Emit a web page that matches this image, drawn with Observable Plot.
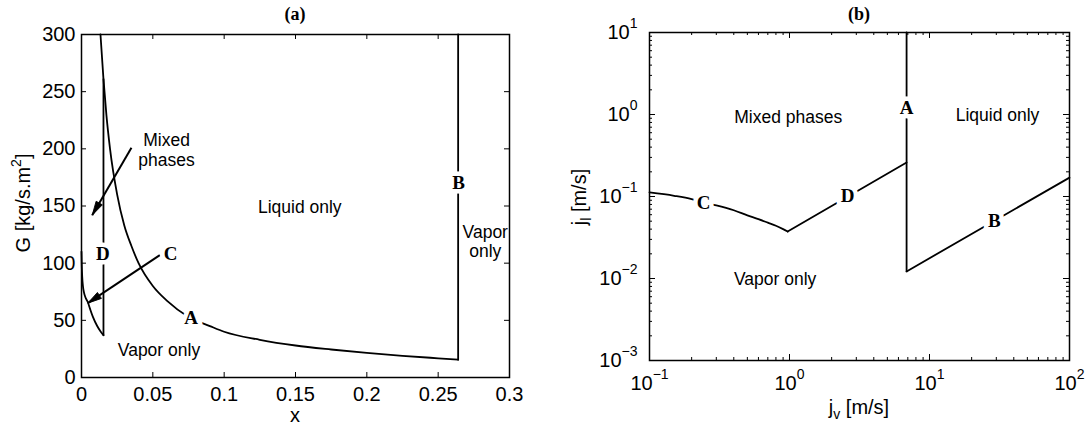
<!DOCTYPE html>
<html><head><meta charset="utf-8">
<script src="https://cdn.jsdelivr.net/npm/d3@7"></script>
<script src="https://cdn.jsdelivr.net/npm/@observablehq/plot@0.6"></script>
<style>
html,body{margin:0;padding:0;background:#fff;}
#wrap{position:relative;width:1089px;height:425px;overflow:hidden;background:#fff;}
#wrap svg{position:absolute;top:0;}
</style></head><body><div id="wrap"></div><script>
// ---------- Panel (a) data ----------
const aTicksX = [0, 0.05, 0.1, 0.15, 0.2, 0.25, 0.3];
const aTicksY = [0, 50, 100, 150, 200, 250, 300];
const curveA_x = [0.0133, 0.0154, 0.0175, 0.02, 0.025, 0.03, 0.035, 0.04, 0.05, 0.06, 0.075, 0.09, 0.1, 0.125, 0.15, 0.175, 0.2, 0.225, 0.25, 0.264];
const curveA_G = [300, 261, 229, 200, 160, 133, 115, 100, 80, 67, 53, 45, 40, 33, 28, 24.5, 21.5, 19, 16.8, 15.6];
const curveC_x = [0, 0.0002, 0.0005, 0.001, 0.0018, 0.0028, 0.0044, 0.006, 0.008, 0.011, 0.0135, 0.0154];
const curveC_G = [110, 98, 88, 80, 74, 70, 66, 60, 53, 45, 40, 37];
const lineD_x = [0.0154, 0.0154];
const lineD_G = [37, 261];
const lineB_x = [0.264, 0.264];
const lineB_G = [15.6, 300];
const aLabel = ["A", "B", "C", "D"];
const aLabelX = [0.0768, 0.2644, 0.0624, 0.0150];
const aLabelG = [52, 170, 108.5, 108.5];
const aRegion = ["Liquid only", "Vapor only", "Vapor\nonly"];
const aRegionX = [0.153, 0.0543, 0.283];
const aRegionG = [149, 23.6, 119];
const aMixed = ["Mixed\nphases"];
const aMixedX = [0.0596];
const aMixedG = [199];
const aArrowX1 = [0.035, 0.0549];
const aArrowG1 = [201, 107];
const aArrowX2 = [0.0075, 0.0044];
const aArrowG2 = [142, 65];

// ---------- Panel (b) data ----------
const bTicksX = [0.1, 1, 10, 100];
const bTicksY = [0.001, 0.01, 0.1, 1, 10];
const bC_jv = [0.1, 0.15, 0.2, 0.243, 0.3, 0.4, 0.5, 0.6, 0.7, 0.8, 0.9, 0.97];
const bC_jl = [0.112, 0.102, 0.093, 0.0845, 0.078, 0.068, 0.059, 0.053, 0.048, 0.044, 0.040, 0.0374];
const bD_jv = [0.97, 6.86];
const bD_jl = [0.0374, 0.26];
const bA_jv = [6.86, 6.86];
const bA_jl = [0.0122, 10];
const bB_jv = [6.86, 100];
const bB_jl = [0.0122, 0.17];
const bLabel = ["A", "B", "C", "D"];
const bLabelJv = [6.86, 29, 0.243, 2.6];
const bLabelJl = [1.2, 0.051, 0.0845, 0.101];
const bRegion = ["Mixed phases", "Liquid only", "Vapor only"];
const bRegionJv = [0.98, 30.6, 0.79];
const bRegionJl = [0.92, 0.97, 0.0097];

// ---------- helpers ----------
const FONT = "'Liberation Sans', Arial, Helvetica, sans-serif";
const SERIF = "'Liberation Serif', 'Times New Roman', serif";
const zip = (xs, ys) => xs.map((x, i) => ({x, y: ys[i]}));
const rows = (t, xs, ys) => t.map((s, i) => ({t: s, x: xs[i], y: ys[i]}));
const minorOf = (majors) => majors.slice(0, -1).flatMap(m => [2,3,4,5,6,7,8,9].map(k => m * k));

function inwardTicks(xs, ys, iw, ih, len) {
  const st = {stroke: "black", strokeWidth: 1};
  return [
    Plot.tickX(xs, {x: d => d, insetTop: ih - len, ...st}),
    Plot.tickX(xs, {x: d => d, insetBottom: ih - len, ...st}),
    Plot.tickY(ys, {y: d => d, insetRight: iw - len, ...st}),
    Plot.tickY(ys, {y: d => d, insetLeft: iw - len, ...st})
  ];
}
const haloLabels = (data) => Plot.text(data, {x: "x", y: "y", text: "t", fontFamily: SERIF, fontWeight: "bold",
  fontSize: 19, fill: "black", stroke: "white", strokeWidth: 9, paintOrder: "stroke"});

const headSymbol = {draw(ctx) { ctx.moveTo(0, 0); ctx.lineTo(-3.6, 14); ctx.lineTo(3.6, 14); ctx.closePath(); }};

function addText(svg, {x, y, rotate = 0, anchor = "middle", family = FONT, size = 20, weight = "normal", parts}) {
  const t = d3.select(svg).append("text")
    .attr("transform", `translate(${x},${y}) rotate(${rotate})`)
    .attr("text-anchor", anchor).attr("font-family", family)
    .attr("font-size", size).attr("font-weight", weight).attr("fill", "black");
  parts.forEach(p => {
    const s = t.append("tspan").text(p.text);
    if (p.dy) s.attr("dy", p.dy);
    if (p.size) s.attr("font-size", p.size);
  });
}

function supLabels(svg) {
  d3.select(svg).selectAll('g[aria-label$="tick label"] text').each(function() {
    const m = this.textContent.match(/^10\^(.+)$/);
    if (!m) return;
    const sel = d3.select(this);
    sel.text(null);
    sel.append("tspan").text("10");
    sel.append("tspan").attr("dy", "-11").attr("font-size", "14px").text(m[1].replace("-", "\u2212"));
  });
}

// ---------- Panel (a) ----------
function panelA(headAngles) {
  const w = 545, h = 425, mL = 81, mR = 36, mT = 34, mB = 48;
  const iw = w - mL - mR, ih = h - mT - mB;
  const arrows = aArrowX1.map((x1, i) => ({x1, y1: aArrowG1[i], x2: aArrowX2[i], y2: aArrowG2[i]}));
  const ln = {x: "x", y: "y", stroke: "black", strokeWidth: 1.8};
  return Plot.plot({
    width: w, height: h, marginLeft: mL, marginRight: mR, marginTop: mT, marginBottom: mB,
    x: {domain: [0, 0.3]}, y: {domain: [0, 300]},
    style: {fontFamily: FONT, fontSize: "20px", background: "white", color: "black"},
    marks: [
      Plot.line(zip(curveA_x, curveA_G), {...ln, curve: "monotone-x"}),
      Plot.line(zip(curveC_x, curveC_G), {...ln, curve: "monotone-x"}),
      Plot.line(zip(lineD_x, lineD_G), ln),
      Plot.line(zip(lineB_x, lineB_G), ln),
      Plot.link(arrows, {x1: "x1", y1: "y1", x2: "x2", y2: "y2", stroke: "black", strokeWidth: 2}),
      ...(headAngles ? [Plot.dot(arrows, {x: "x2", y: "y2", symbol: headSymbol, rotate: (d, i) => headAngles[i],
        fill: "black", stroke: "black", strokeWidth: 0.8})] : []),
      haloLabels(rows(aLabel, aLabelX, aLabelG)),
      Plot.text(rows(aRegion, aRegionX, aRegionG), {x: "x", y: "y", text: "t", fontFamily: FONT, fontSize: 17.5, lineHeight: 1.05, fill: "black"}),
      Plot.text(rows(aMixed, aMixedX, aMixedG), {x: "x", y: "y", text: "t", fontFamily: FONT, fontSize: 17.5, lineHeight: 1.15, fill: "black"}),
      ...inwardTicks(aTicksX, aTicksY, iw, ih, 5),
      Plot.frame({stroke: "black", strokeWidth: 1.5}),
      Plot.axisX(aTicksX, {tickSize: 0, tickPadding: 9, tickFormat: d => String(d), label: null}),
      Plot.axisY(aTicksY, {tickSize: 0, tickPadding: 6, tickFormat: d => String(d), label: null})
    ]
  });
}
const a0 = panelA(null);
const sx = a0.scale("x"), sy = a0.scale("y");
const headAngles = aArrowX1.map((x1, i) => {
  const dx = sx.apply(aArrowX2[i]) - sx.apply(x1);
  const dy = sy.apply(aArrowG2[i]) - sy.apply(aArrowG1[i]);
  return Math.atan2(dx, -dy) * 180 / Math.PI;
});
const svgA = panelA(headAngles);
svgA.style.left = "0px";
addText(svgA, {x: 295, y: 20, family: SERIF, size: 18, weight: "bold", parts: [{text: "(a)"}]});
addText(svgA, {x: 295, y: 422, parts: [{text: "x"}]});
addText(svgA, {x: 30, y: 203, rotate: -90, parts: [{text: "G [kg/s.m"}, {text: "2", dy: -9, size: 14}, {text: "]", dy: 9}]});

// ---------- Panel (b) ----------
function panelB() {
  const w = 544, h = 425, mL = 104, mR = 20, mT = 32, mB = 65;
  const iw = w - mL - mR, ih = h - mT - mB;
  const ln = {x: "x", y: "y", stroke: "black", strokeWidth: 1.8};
  const fmt = d => "10^" + Math.round(Math.log10(d));
  return Plot.plot({
    width: w, height: h, marginLeft: mL, marginRight: mR, marginTop: mT, marginBottom: mB,
    x: {type: "log", domain: [0.1, 100]}, y: {type: "log", domain: [0.001, 10]},
    style: {fontFamily: FONT, fontSize: "20px", background: "white", color: "black"},
    marks: [
      Plot.line(zip(bC_jv, bC_jl), {...ln, curve: "monotone-x"}),
      Plot.line(zip(bD_jv, bD_jl), ln),
      Plot.line(zip(bA_jv, bA_jl), ln),
      Plot.line(zip(bB_jv, bB_jl), ln),
      haloLabels(rows(bLabel, bLabelJv, bLabelJl)),
      Plot.text(rows(bRegion, bRegionJv, bRegionJl), {x: "x", y: "y", text: "t", fontFamily: FONT, fontSize: 17.5, fill: "black"}),
      ...inwardTicks(bTicksX, bTicksY, iw, ih, 6),
      ...inwardTicks(minorOf(bTicksX), minorOf(bTicksY), iw, ih, 3),
      Plot.frame({stroke: "black", strokeWidth: 1.5}),
      Plot.axisX(bTicksX, {tickSize: 0, tickPadding: 15, tickFormat: fmt, label: null}),
      Plot.axisY(bTicksY, {tickSize: 0, tickPadding: 12, tickFormat: fmt, label: null})
    ]
  });
}
const svgB = panelB();
svgB.style.left = "545px";
supLabels(svgB);
addText(svgB, {x: 314, y: 20, family: SERIF, size: 18, weight: "bold", parts: [{text: "(b)"}]});
addText(svgB, {x: 314, y: 414, parts: [{text: "j"}, {text: "v", dy: 5, size: 14}, {text: " [m/s]", dy: -5}]});
addText(svgB, {x: 41, y: 197, rotate: -90, parts: [{text: "j"}, {text: "l", dy: 5, size: 14}, {text: " [m/s]", dy: -5}]});

const wrap = document.getElementById("wrap");
wrap.appendChild(svgA);
wrap.appendChild(svgB);
</script></body></html>
